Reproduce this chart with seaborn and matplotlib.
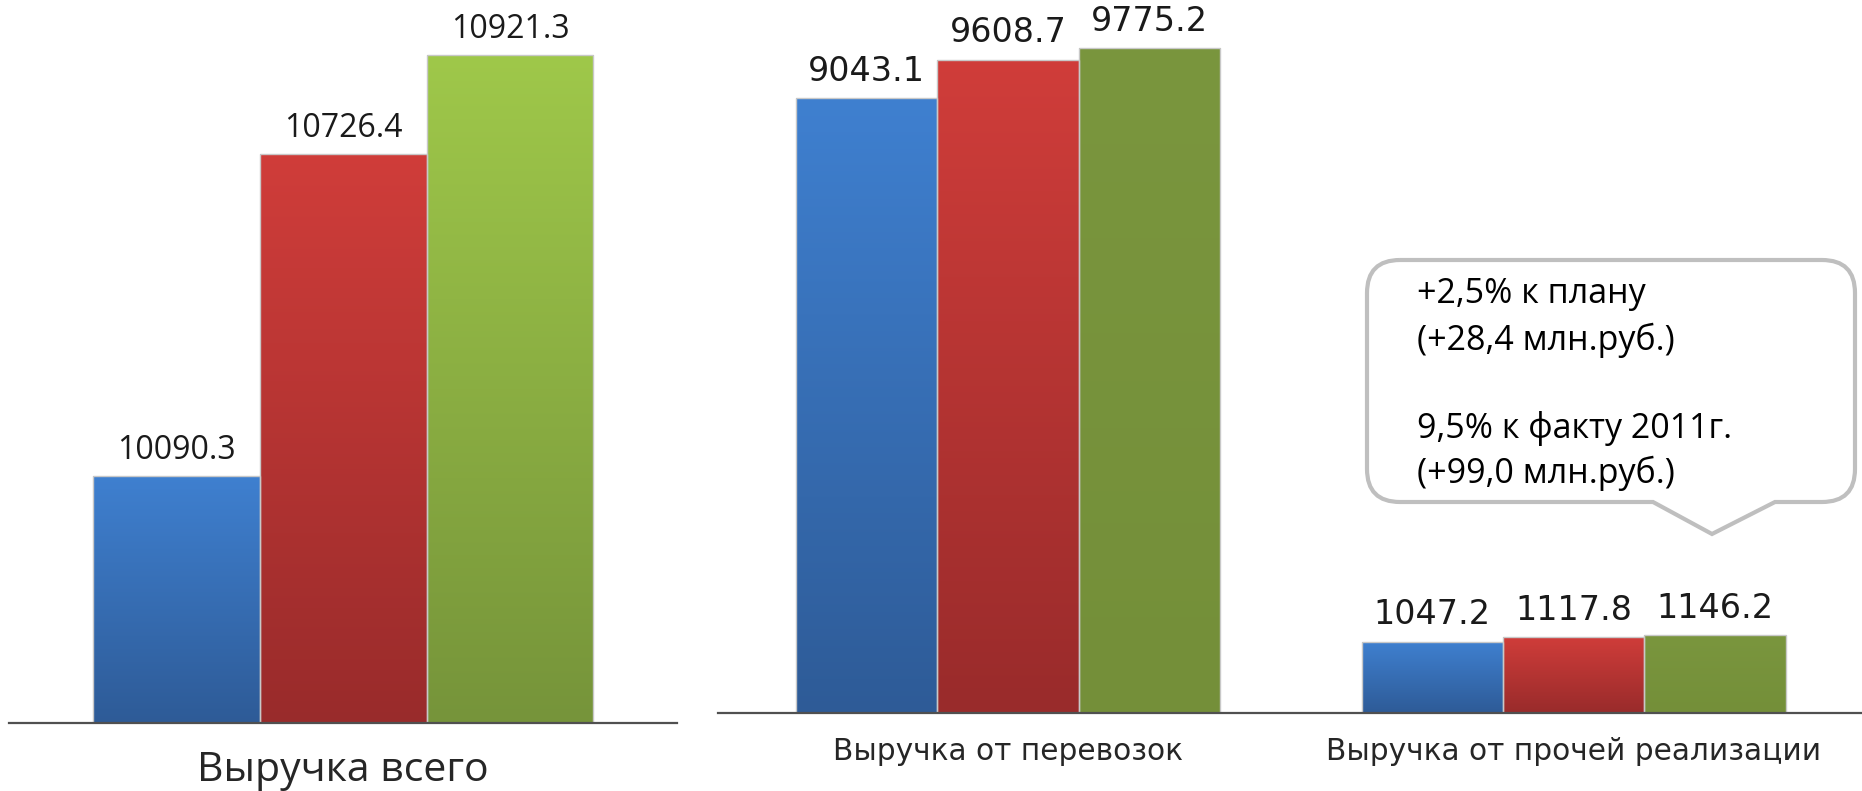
import numpy as np
import pandas as pd
import matplotlib
matplotlib.use("Agg")
import matplotlib.pyplot as plt
import seaborn as sns
from matplotlib.colors import LinearSegmentedColormap
from matplotlib.path import Path
from matplotlib.patches import PathPatch

# данные
series = ["Факт 2011", "План 2012", "Факт 2012"]
total_categories = ["Выручка всего"]
total_values = [10090.3, 10726.4, 10921.3]
split_categories = ["Выручка от перевозок", "Выручка от прочей реализации"]
transport_values = [9043.1, 9608.7, 9775.2]
other_values = [1047.2, 1117.8, 1146.2]
note_lines = ["+2,5% к плану", "(+28,4 млн.руб.)",
              "9,5% к факту 2011г.", "(+99,0 млн.руб.)"]

df_total = pd.DataFrame({"cat": total_categories * 3, "series": series, "value": total_values})
df_split = pd.DataFrame({
    "cat": [split_categories[0]] * 3 + [split_categories[1]] * 3,
    "series": series * 2,
    "value": transport_values + other_values,
})

sns.set_style("white")
plt.rcParams["font.family"] = ["DejaVu Sans"]

# цвета градиента (верх, низ)
grad_left = [("#3f80d0", "#2e5b97"), ("#d03d3a", "#992b2b"), ("#9fc84a", "#76943a")]
grad_right = [("#3f80d0", "#2e5b97"), ("#d03d3a", "#992b2b"), ("#7a963e", "#748f39")]

fig = plt.figure(figsize=(18.62, 7.91), dpi=100)
ax1 = fig.add_axes([0.0051, 1 - 723 / 791, 0.3584, (723 - 12) / 791])
ax2 = fig.add_axes([718 / 1862, 1 - 713 / 791, 1 - 718 / 1862, (713 - 12) / 791])


def draw(ax, data, grads, ylim, xlim, val_font, cat_font, pad, cat_pad):
    sns.barplot(data=data, x="cat", y="value", hue="series", ax=ax, width=0.75,
                palette=[g[0] for g in grads], legend=False, saturation=1)
    ax.set_ylim(*ylim)
    ax.set_xlim(*xlim)
    ybot = ylim[0]
    for cont, (top, bot) in zip(ax.containers, grads):
        cmap = LinearSegmentedColormap.from_list("g", [bot, top])
        for p in cont.patches:
            x0 = p.get_x()
            w = p.get_width()
            h = p.get_height()
            y0 = max(p.get_y(), ybot)
            im = ax.imshow(np.linspace(0, 1, 256).reshape(-1, 1), extent=[x0, x0 + w, y0, p.get_y() + h],
                           origin="lower", aspect="auto", cmap=cmap, zorder=0.9)
            im.set_clip_path(p)
            p.set_facecolor("none")
            p.set_edgecolor("#c8c8c8")
            p.set_linewidth(1.0)
        ax.bar_label(cont, fmt="%.1f", padding=pad, color="#1a1a1a", **val_font)
    ax.set_ylim(*ylim)
    ax.set_xlim(*xlim)
    ax.set_xlabel("")
    ax.set_ylabel("")
    ax.set_yticks([])
    ax.tick_params(axis="x", length=0, pad=cat_pad, colors="#262626")
    for lbl in ax.get_xticklabels():
        lbl.set_fontsize(cat_font["fontsize"])
        lbl.set_family(cat_font["family"])
    for s in ["top", "left", "right"]:
        ax.spines[s].set_visible(False)
    ax.spines["bottom"].set_color("#505050")
    ax.spines["bottom"].set_linewidth(1.6)


draw(ax1, df_total, grad_left, (9602, 11006), (-0.5, 0.5),
     {"fontsize": 23, "family": ["Open Sans", "DejaVu Sans"]},
     {"fontsize": 29.5, "family": ["Open Sans", "DejaVu Sans"]}, 6.5, 20)
draw(ax2, df_split, grad_right, (0, 10310), (-0.513, 1.51),
     {"fontsize": 24, "family": ["DejaVu Sans"]},
     {"fontsize": 21.3, "family": ["DejaVu Sans"]}, 7.5, 17)

# выноска
bx0, bx1, by0, by1, r = 13.67, 18.55, 2.89, 5.31, 0.33
tx0, tx1, ax_, ay_ = 16.53, 17.75, 17.12, 2.57
verts = [
    (bx0 + r, by1), (bx1 - r, by1), (bx1, by1), (bx1, by1 - r),
    (bx1, by0 + r), (bx1, by0), (bx1 - r, by0),
    (tx1, by0), (ax_, ay_), (tx0, by0),
    (bx0 + r, by0), (bx0, by0), (bx0, by0 + r),
    (bx0, by1 - r), (bx0, by1), (bx0 + r, by1),
]
codes = [Path.MOVETO, Path.LINETO, Path.CURVE3, Path.CURVE3,
         Path.LINETO, Path.CURVE3, Path.CURVE3,
         Path.LINETO, Path.LINETO, Path.LINETO,
         Path.LINETO, Path.CURVE3, Path.CURVE3,
         Path.LINETO, Path.CURVE3, Path.CURVE3]
callout = PathPatch(Path(verts, codes), transform=fig.dpi_scale_trans,
                    facecolor="white", edgecolor="#bfbfbf", linewidth=3)
fig.add_artist(callout)

line_base = [303, 350, 438, 483]
for txt, yy in zip(note_lines, line_base):
    fig.text(1417 / 1862, 1 - yy / 791, txt, fontsize=24.5, family=["Open Sans", "DejaVu Sans"],
             ha="left", va="baseline", color="black")

fig.savefig("out.png", dpi=100)
